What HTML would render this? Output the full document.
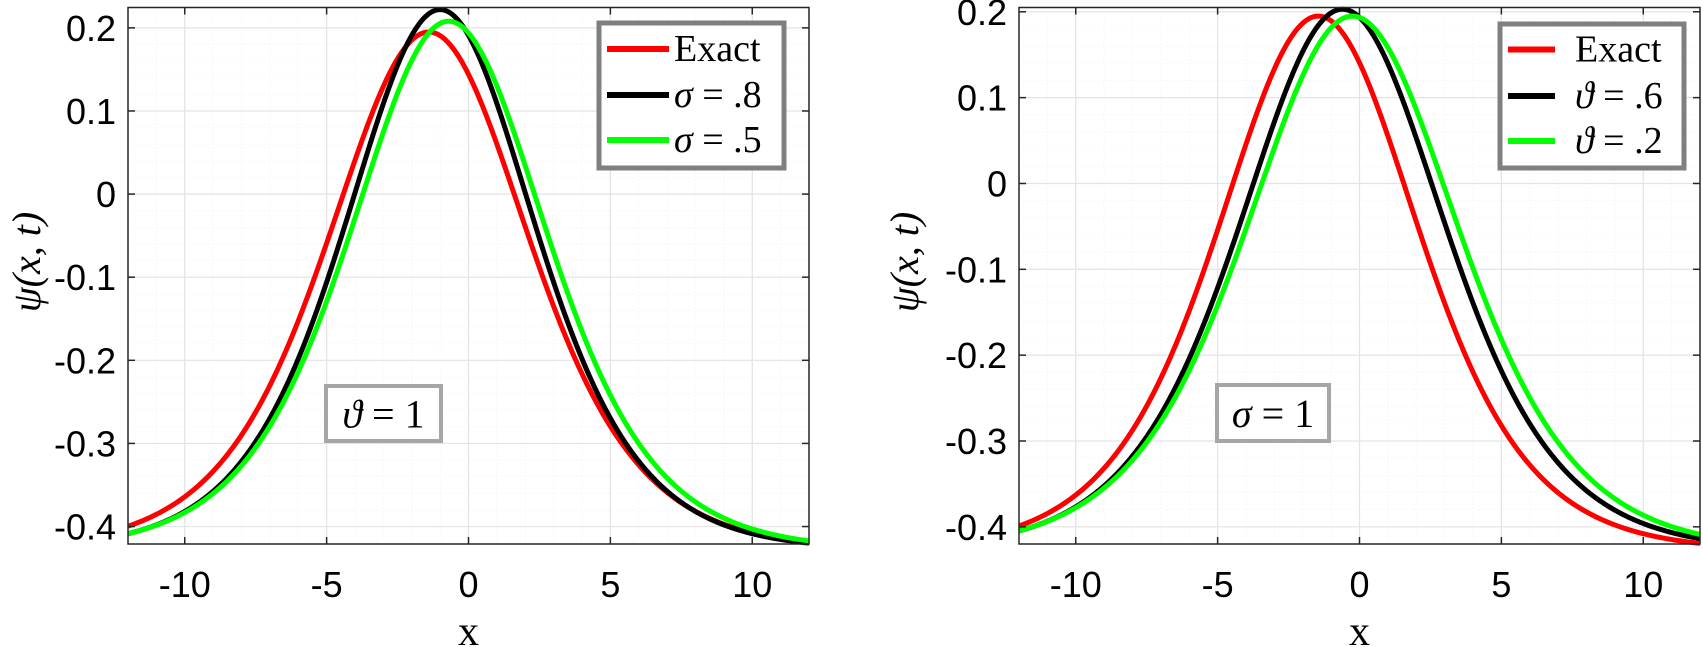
<!DOCTYPE html>
<html><head><meta charset="utf-8"><style>
html,body{margin:0;padding:0;background:#fff;}
svg{display:block;}
.tk{font-family:"Liberation Sans",Arial,sans-serif;font-size:36px;fill:#000;}
.sf{font-family:"Liberation Serif",serif;fill:#000;}
</style></head><body>
<svg id="s" width="1703" height="647" viewBox="0 0 1703 647" xmlns="http://www.w3.org/2000/svg"></svg>
<script>
const NS="http://www.w3.org/2000/svg";
const s=document.getElementById('s');
function el(t,a,txt){const e=document.createElementNS(NS,t);for(const k in a)e.setAttribute(k,a[k]);if(txt!==undefined)e.textContent=txt;s.appendChild(e);return e;}
function sech2(u){const c=Math.cosh(u);return 1/(c*c);}
function plot(P){
  const X=x=>P.x0+(x+12)/24*(P.x1-P.x0);
  const Y=y=>P.y0+(P.ymax-y)/(P.ymax-P.ymin)*(P.y1-P.y0);
  for(let x=-12;x<=12;x++){el('line',{x1:X(x),x2:X(x),y1:P.y0,y2:P.y1,stroke:'#f0f0f0','stroke-width':1,'stroke-dasharray':'1,3'});}
  for(let y=-0.42;y<=0.22;y+=0.02){el('line',{x1:P.x0,x2:P.x1,y1:Y(y),y2:Y(y),stroke:'#f0f0f0','stroke-width':1,'stroke-dasharray':'1,3'});}
  for(const x of [-10,-5,0,5,10]){el('line',{x1:X(x),x2:X(x),y1:P.y0,y2:P.y1,stroke:'#e3e3e3','stroke-width':1.2});}
  const yt=[0.2,0.1,0,-0.1,-0.2,-0.3,-0.4];
  for(const y of yt){el('line',{x1:P.x0,x2:P.x1,y1:Y(y),y2:Y(y),stroke:'#e3e3e3','stroke-width':1.2});}
  for(const c of P.curves){
    let d='';
    for(let i=0;i<=400;i++){const x=-12+24*i/400;const y=-0.428+c.A*sech2(c.k*(x-c.c));d+=(i?'L':'M')+X(x).toFixed(2)+','+Y(y).toFixed(2);}
    el('path',{d:d,fill:'none',stroke:c.col,'stroke-width':5,'stroke-linejoin':'round'});
  }
  el('rect',{x:P.x0,y:P.y0,width:P.x1-P.x0,height:P.y1-P.y0,fill:'none',stroke:'#262626','stroke-width':1.5});
  for(const x of [-10,-5,0,5,10]){
    el('line',{x1:X(x),x2:X(x),y1:P.y1,y2:P.y1-7,stroke:'#262626','stroke-width':1.5});
    el('line',{x1:X(x),x2:X(x),y1:P.y0,y2:P.y0+7,stroke:'#262626','stroke-width':1.5});
    el('text',{x:X(x),y:597,class:'tk','text-anchor':'middle'},x);
  }
  for(const y of yt){
    el('line',{x1:P.x0,x2:P.x0+7,y1:Y(y),y2:Y(y),stroke:'#262626','stroke-width':1.5});
    el('line',{x1:P.x1,x2:P.x1-7,y1:Y(y),y2:Y(y),stroke:'#262626','stroke-width':1.5});
    el('text',{x:P.x0-12,y:Y(y)+13,class:'tk','text-anchor':'end'},y===0?'0':(y<0?'-':'')+Math.abs(y).toFixed(1));
  }
  el('text',{x:(P.x0+P.x1)/2,y:645,class:'sf','font-size':42,'text-anchor':'middle'},'x');
  el('text',{x:0,y:0,class:'sf','font-size':40,'font-style':'italic','text-anchor':'middle',transform:`translate(${P.ylx},262) rotate(-90)`},'ψ(x, t)');
  const L=P.leg;
  el('rect',{x:L.x,y:L.y,width:L.w,height:L.h,fill:'#fff',stroke:'#7f7f7f','stroke-width':5});
  L.rows.forEach((r,i)=>{
    el('line',{x1:L.lx1,x2:L.lx2,y1:L.ry[i],y2:L.ry[i],stroke:r.col,'stroke-width':6});
    const t=el('text',{x:L.tx,y:L.ry[i]+12,class:'sf','font-size':38});
    t.innerHTML=r.html;
  });
  const B=P.box;
  el('rect',{x:B.x,y:B.y,width:B.w,height:B.h,fill:'#fff',stroke:'#a6a6a6','stroke-width':4});
  const t=el('text',{x:B.x+B.w/2,y:B.y+B.h/2+14,class:'sf','font-size':40,'text-anchor':'middle'});
  t.innerHTML=B.html;
}
plot({x0:128,x1:809,y0:7.5,y1:544,ymax:0.2245,ymin:-0.421,ylx:40,
 curves:[{A:0.623,c:-1.4,k:0.21,col:'#ff0000'},{A:0.65,c:-1.0,k:0.222,col:'#000000'},{A:0.636,c:-0.7,k:0.215,col:'#00ff00'}],
 leg:{x:599,y:23,w:185,h:145,lx1:607,lx2:669,tx:674,ry:[49,95,140],
  rows:[{col:'#ff0000',html:'Exact'},{col:'#000',html:'<tspan font-style="italic">σ</tspan> = .8'},{col:'#00ff00',html:'<tspan font-style="italic">σ</tspan> = .5'}]},
 box:{x:326,y:386,w:115,h:55,html:'<tspan font-style="italic">ϑ</tspan> = 1'}});
plot({x0:1019,x1:1700,y0:7.5,y1:544,ymax:0.205,ymin:-0.42,ylx:918,
 curves:[{A:0.623,c:-1.45,k:0.21,col:'#ff0000'},{A:0.631,c:-0.6,k:0.205,col:'#000000'},{A:0.623,c:-0.25,k:0.198,col:'#00ff00'}],
 leg:{x:1500,y:24,w:184,h:144,lx1:1508,lx2:1555,tx:1575,ry:[49.5,96,141],
  rows:[{col:'#ff0000',html:'Exact'},{col:'#000',html:'<tspan font-style="italic">ϑ</tspan> = .6'},{col:'#00ff00',html:'<tspan font-style="italic">ϑ</tspan> = .2'}]},
 box:{x:1217,y:385,w:112,h:56,html:'<tspan font-style="italic">σ</tspan> = 1'}});
</script>
</body></html>
